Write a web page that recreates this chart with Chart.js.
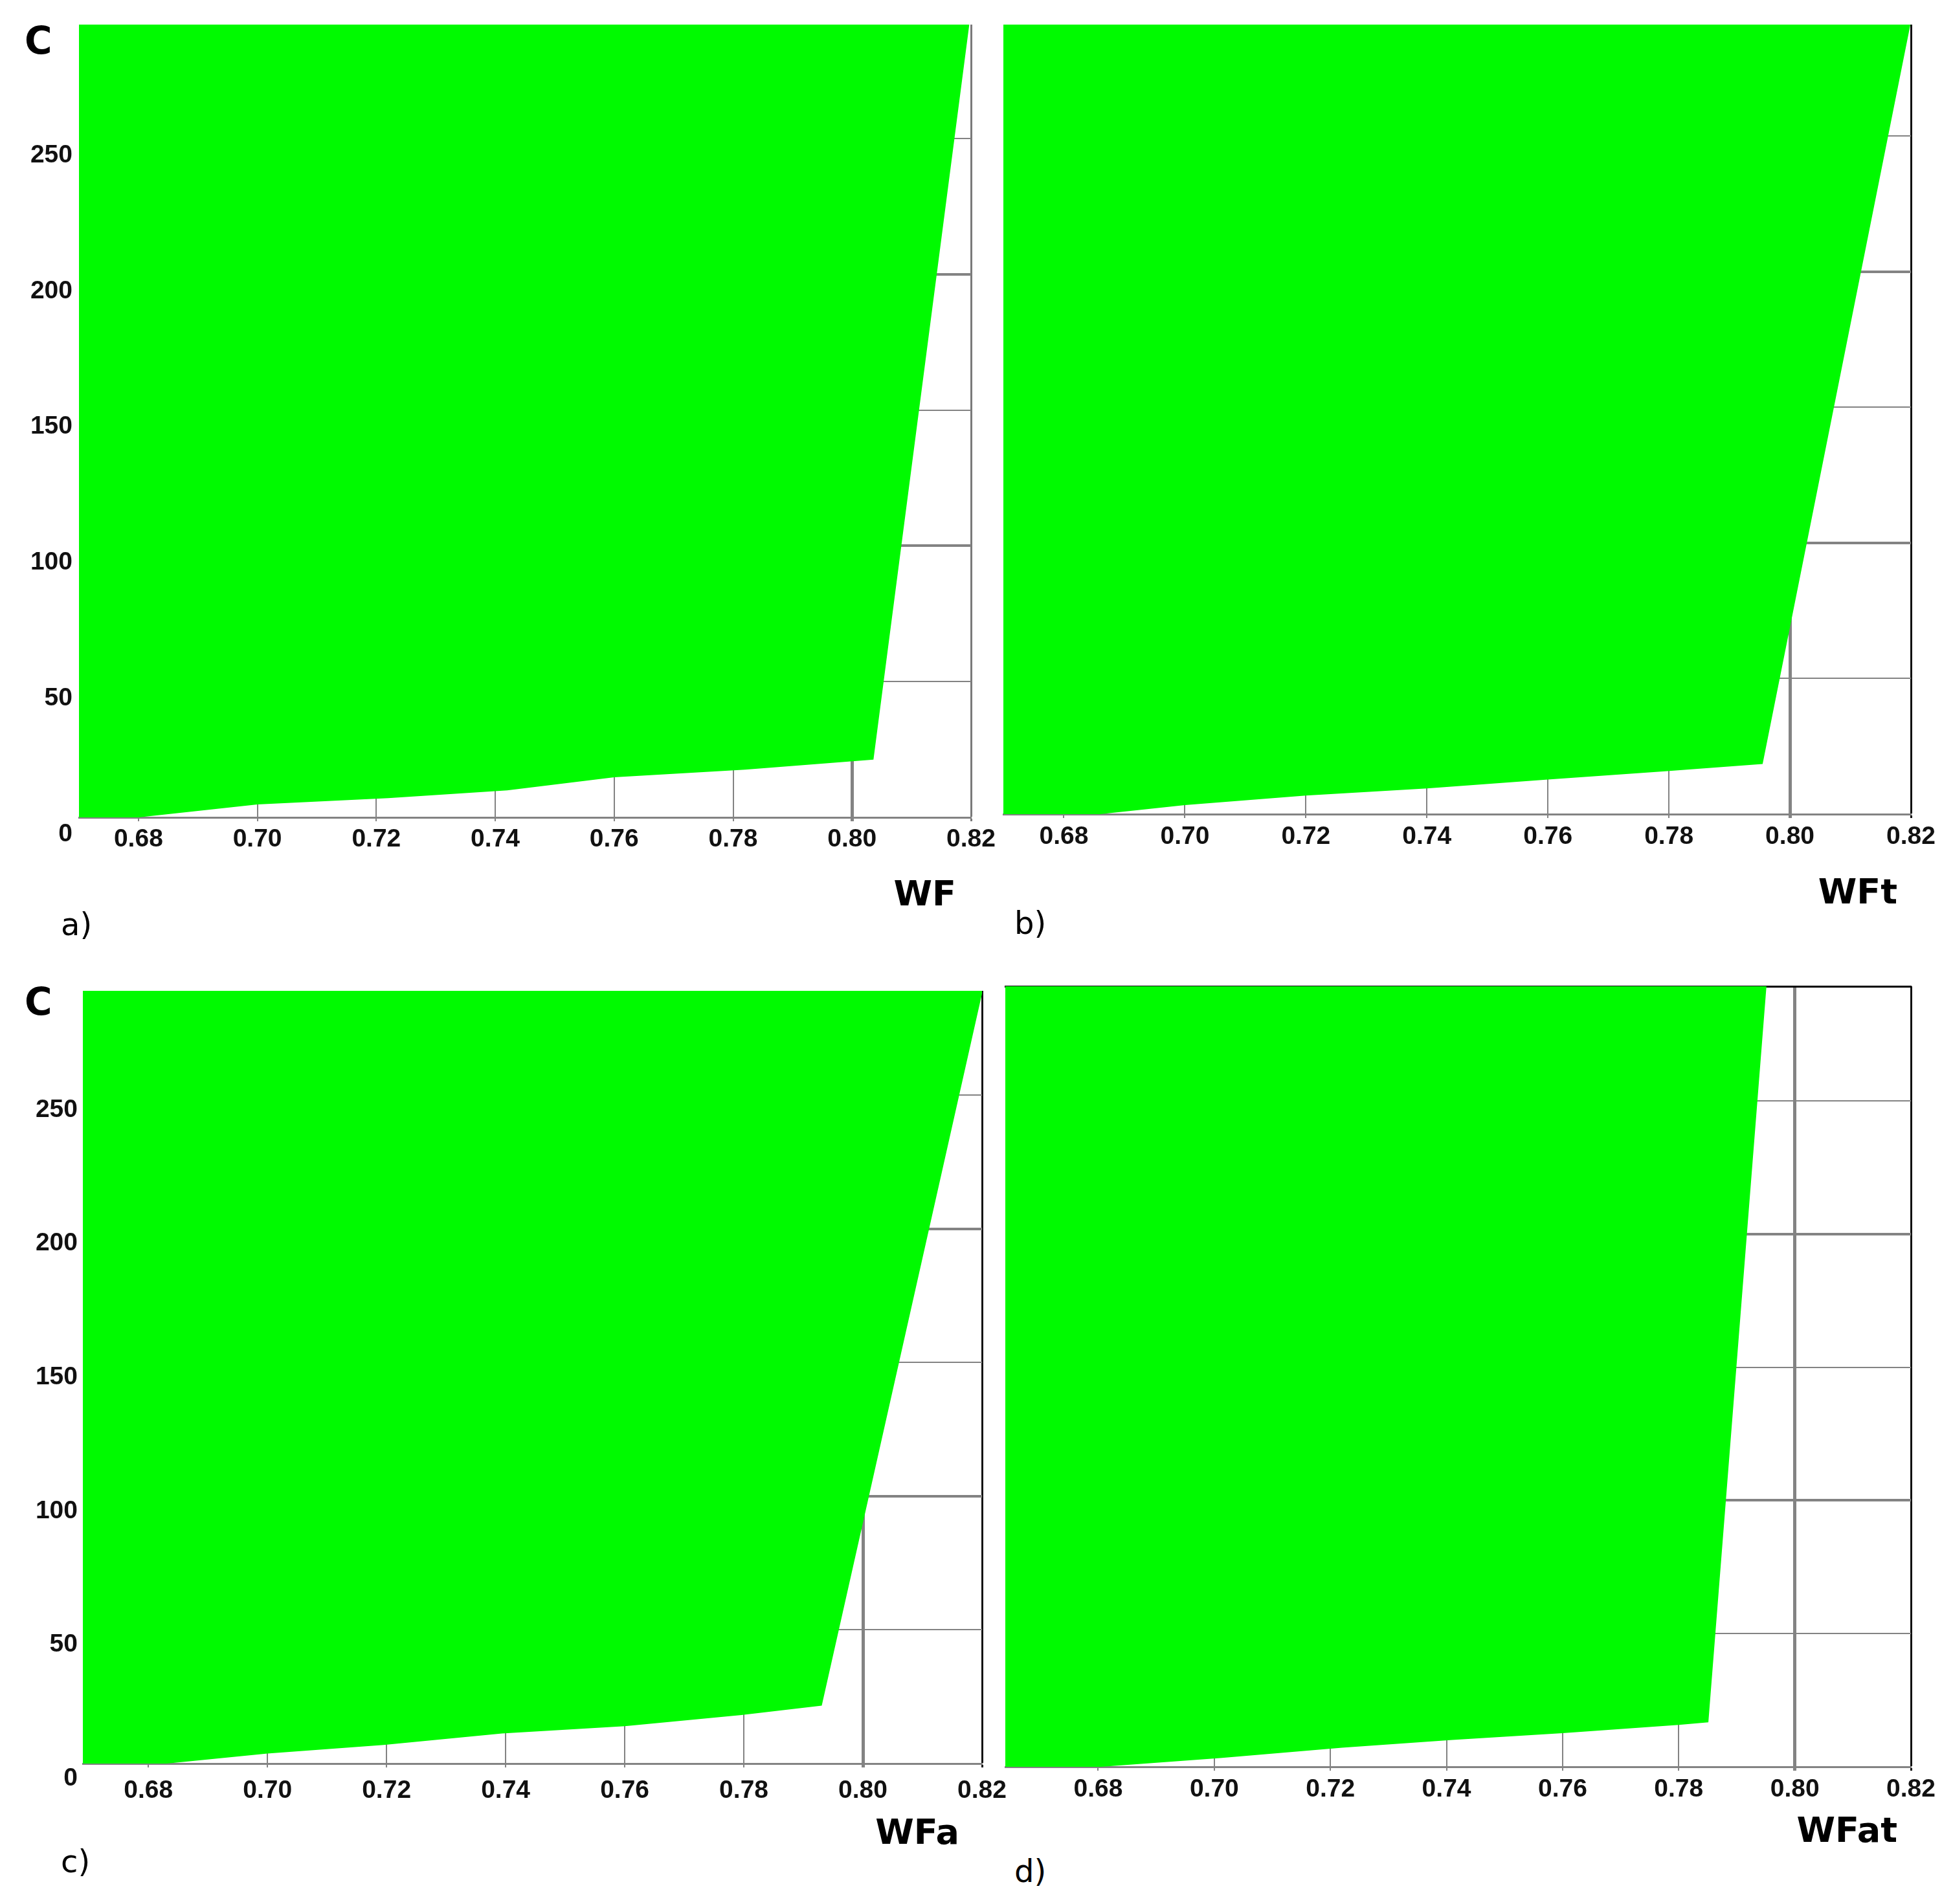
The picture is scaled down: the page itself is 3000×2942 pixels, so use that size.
<!DOCTYPE html>
<html>
<head>
<meta charset="utf-8">
<script src="https://cdn.jsdelivr.net/npm/chart.js@4.4.0/dist/chart.umd.min.js"></script>
<style>
html,body{margin:0;padding:0;background:#fff;}
body{width:3000px;height:2942px;position:relative;overflow:hidden;font-family:"DejaVu Sans",sans-serif;}
canvas{position:absolute;}
.t{position:absolute;line-height:1;color:#000;white-space:nowrap;font-family:"DejaVu Sans",sans-serif;}
.b{font-weight:bold;}
</style>
</head>
<body>
<canvas id="pa" width="1560" height="1420" style="left:0px;top:0px;"></canvas>
<canvas id="pb" width="1470" height="1420" style="left:1530px;top:0px;"></canvas>
<canvas id="pc" width="1560" height="1420" style="left:0px;top:1440px;"></canvas>
<canvas id="pd" width="1470" height="1420" style="left:1530px;top:1440px;"></canvas>

<div class="t b" style="left:38px;top:34px;font-size:58px;">C</div>
<div class="t b" style="left:38px;top:1519px;font-size:58px;">C</div>
<div class="t" style="left:94px;top:1404px;font-size:48px;">a)</div>
<div class="t" style="left:1567px;top:1402px;font-size:48px;">b)</div>
<div class="t" style="left:94px;top:2852px;font-size:48px;">c)</div>
<div class="t" style="left:1567px;top:2867px;font-size:48px;">d)</div>
<div class="t b" style="right:1523px;top:1354px;font-size:54px;">WF</div>
<div class="t b" style="right:69px;top:1351px;font-size:54px;">WFt</div>
<div class="t b" style="right:1518px;top:2804px;font-size:54px;">WFa</div>
<div class="t b" style="right:69px;top:2801px;font-size:54px;">WFat</div>

<script>
// ---- tick values / labels ----
const xTickValues = [0.68, 0.70, 0.72, 0.74, 0.76, 0.78, 0.80, 0.82];
const xTickLabels = ['0.68', '0.70', '0.72', '0.74', '0.76', '0.78', '0.80', '0.82'];
const yTickValues = [0, 50, 100, 150, 200, 250];
const yTickLabels = ['0', '50', '100', '150', '200', '250'];

// ---- boundary of the green (feasible) region, per panel: WF value and C value ----
const wfA = [0.670, 0.679, 0.700, 0.722, 0.742, 0.760, 0.782, 0.8035, 0.8196];
const cA  = [0, 0, 5.0, 7.3, 10.2, 15.0, 17.8, 21.5, 292];
const wfB = [0.670, 0.685, 0.700, 0.720, 0.740, 0.760, 0.779, 0.7954, 0.8198];
const cB  = [0, 0, 3.6, 7.1, 9.7, 13.0, 16.0, 18.7, 291];
const wfC = [0.669, 0.682, 0.700, 0.7195, 0.7394, 0.760, 0.7796, 0.793, 0.820];
const cC  = [0, 0, 4.0, 7.2, 11.5, 14.2, 18.4, 21.9, 289];
const wfD = [0.664, 0.679, 0.701, 0.722, 0.741, 0.760, 0.780, 0.785, 0.795];
const cD  = [0, 0, 3.5, 7.4, 10.3, 12.9, 16.0, 16.9, 293];

// ---- styles ----
const GREEN = 'rgb(0,250,0)';
const GRID = '#838383';
const TICKFONT = { family: '"Liberation Sans", Arial, sans-serif', size: 39, weight: 'bold' };

function makePanel(id, wf, c, p) {
  const scales = {
    x: {
      type: 'linear', position: 'bottom', min: p.xMin, max: 0.82, bounds: 'data',
      afterBuildTicks: s => { s.ticks = xTickValues.map(v => ({value: v})); },
      afterFit: s => { s.height = p.xAxisH; s.paddingLeft = 0; s.paddingRight = 0; s.paddingTop = 0; s.paddingBottom = 0; },
      grid: {
        color: ctx => (ctx.tick && ctx.tick.value === 0.82) ? p.rightColor : GRID,
        lineWidth: ctx => {
          if (!ctx.tick) return 2;
          if (ctx.tick.value === 0.8) return 5;
          if (ctx.tick.value === 0.82) return 3;
          return 2;
        },
        drawTicks: true, tickLength: 6
      },
      border: { display: true, color: GRID, width: 3 },
      ticks: {
        autoSkip: false, maxRotation: 0, minRotation: 0, padding: p.xPad,
        color: '#111', font: TICKFONT,
        callback: (v, i) => xTickLabels[i]
      }
    },
    y: {
      type: 'linear', position: 'left', min: 0, max: p.yMax, bounds: 'data',
      afterBuildTicks: s => { s.ticks = yTickValues.map(v => ({value: v})); },
      afterFit: s => { s.width = p.yAxisW; s.paddingLeft = 0; s.paddingRight = 0; s.paddingTop = 0; s.paddingBottom = 0; },
      grid: {
        color: GRID,
        lineWidth: ctx => (ctx.tick && (ctx.tick.value === 100 || ctx.tick.value === 200)) ? 4 : 2,
        drawTicks: false
      },
      border: { display: false },
      ticks: {
        display: p.showY, padding: p.yPad, labelOffset: p.yLabelOffset,
        color: '#111', font: TICKFONT,
        callback: (v, i) => yTickLabels[i]
      }
    }
  };
  if (p.topBorder) {
    scales.xTop = {
      type: 'linear', position: 'top', min: p.xMin, max: 0.82, display: true,
      afterFit: s => { s.height = 0; s.paddingLeft = 0; s.paddingRight = 0; s.paddingTop = 0; s.paddingBottom = 0; },
      grid: { display: false, drawTicks: false },
      ticks: { display: false },
      border: { display: true, color: '#000', width: 3 }
    };
  }
  return new Chart(document.getElementById(id), {
    type: 'line',
    data: {
      datasets: [{
        data: wf.map((x, i) => ({x: x, y: c[i]})),
        fill: 'end',
        backgroundColor: GREEN,
        borderColor: GREEN,
        borderWidth: 2,
        pointRadius: 0,
        tension: 0
      }]
    },
    options: {
      responsive: false, animation: false, devicePixelRatio: 1, events: [],
      layout: { padding: { left: 0, top: p.padTop, right: p.padRight, bottom: 0 } },
      plugins: { legend: { display: false }, tooltip: { enabled: false }, title: { display: false } },
      scales: scales
    }
  });
}

makePanel('pa', wfA, cA, { xMin: 0.670, yMax: 292, xAxisH: 157, yAxisW: 122, padTop: 38, padRight: 60,
  xPad: 5, yPad: 10, yLabelOffset: 26, showY: true, rightColor: '#7a7a7a', topBorder: false });
makePanel('pb', wfB, cB, { xMin: 0.670, yMax: 291, xAxisH: 162, yAxisW: 20, padTop: 38, padRight: 48,
  xPad: 6, yPad: 10, yLabelOffset: 24, showY: false, rightColor: '#111', topBorder: false });
makePanel('pc', wfC, cC, { xMin: 0.669, yMax: 289, xAxisH: 135, yAxisW: 128, padTop: 91, padRight: 43,
  xPad: 13, yPad: 8, yLabelOffset: 23, showY: true, rightColor: '#111', topBorder: false });
makePanel('pd', wfD, cD, { xMin: 0.664, yMax: 293, xAxisH: 130, yAxisW: 23, padTop: 84, padRight: 48,
  xPad: 6, yPad: 8, yLabelOffset: 23, showY: false, rightColor: '#111', topBorder: true });
</script>
</body>
</html>
